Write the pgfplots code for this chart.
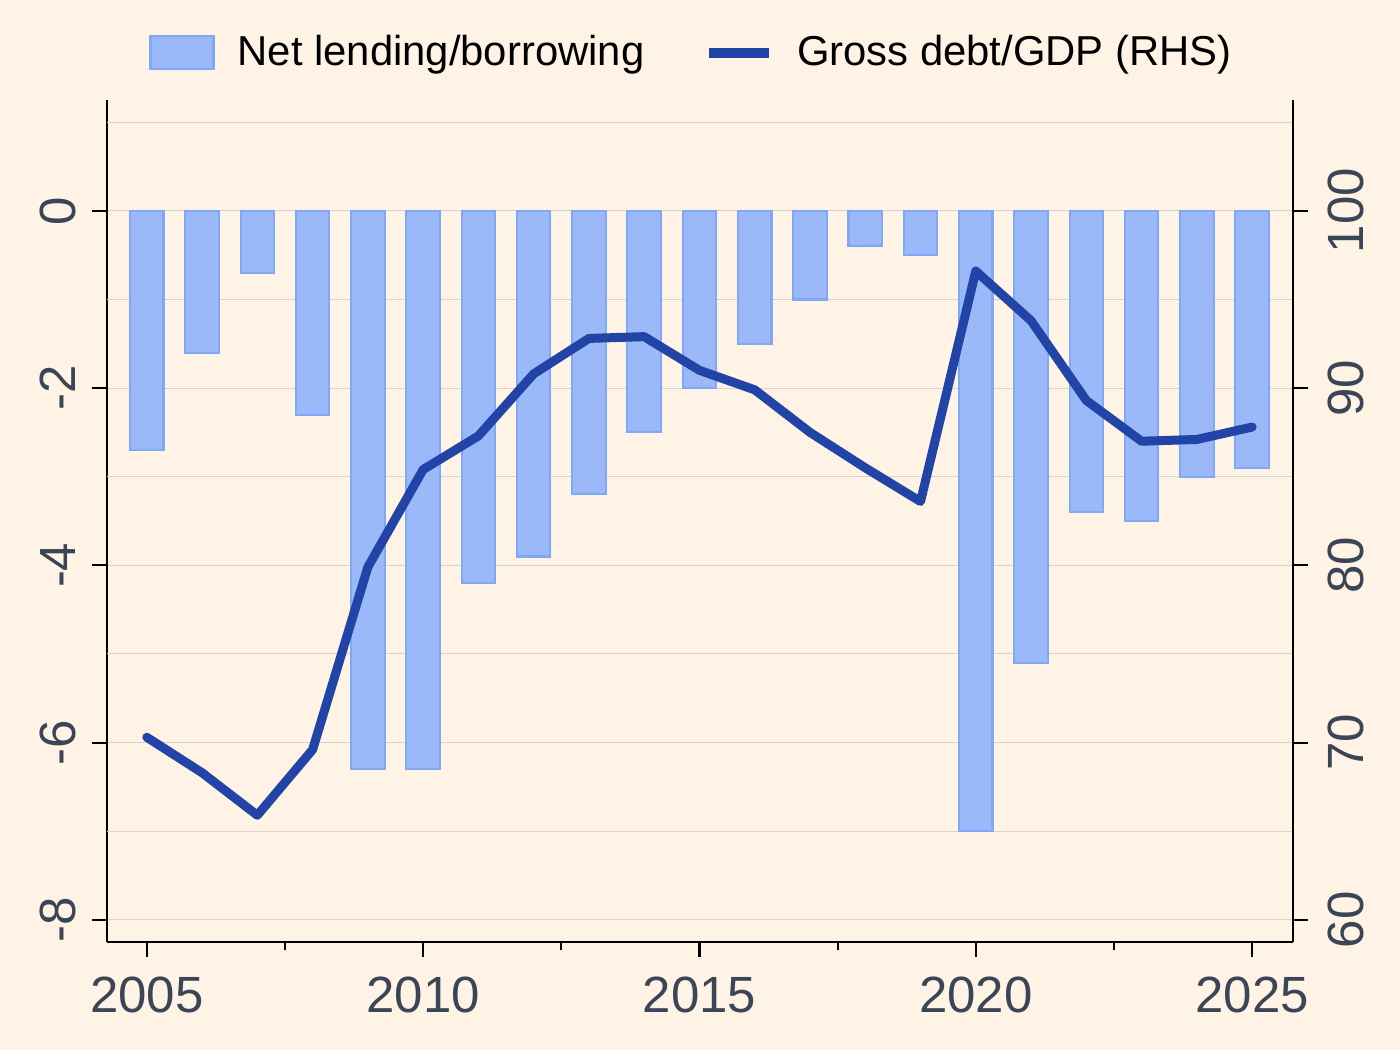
\documentclass[border=0pt]{standalone}
\usepackage{fontspec}
\setmainfont{Liberation Sans}
\usepackage{pgfplots}
\pgfplotsset{compat=1.18}
\definecolor{bg}{RGB}{255,243,230}
\definecolor{barfill}{RGB}{155,184,249}
\definecolor{baredge}{RGB}{128,168,248}
\definecolor{linec}{RGB}{34,68,166}
\definecolor{gridc}{RGB}{218,211,203}
\definecolor{ticktext}{RGB}{58,69,86}
\pgfplotstableread{
year nl
2005 -2.7
2006 -1.6
2007 -0.7
2008 -2.3
2009 -6.3
2010 -6.3
2011 -4.2
2012 -3.9
2013 -3.2
2014 -2.5
2015 -2.0
2016 -1.5
2017 -1.0
2018 -0.4
2019 -0.5
2020 -7.0
2021 -5.1
2022 -3.4
2023 -3.5
2024 -3.0
2025 -2.9
}\nltab
\pgfplotstableread{
year debt
2005 70.3
2006 68.3
2007 65.9
2008 69.6
2009 79.9
2010 85.4
2011 87.3
2012 90.8
2013 92.8
2014 92.9
2015 91.0
2016 89.9
2017 87.5
2018 85.5
2019 83.6
2020 96.6
2021 93.8
2022 89.3
2023 87.0
2024 87.1
2025 87.8
}\debttab
\pgfplotsset{
  common/.style={
    width=11.86cm, height=8.42cm, scale only axis,
    at={(0,0)}, anchor=south west,
    xmin=2004.28, xmax=2025.74,
    /pgf/number format/assume math mode=true,
    /pgf/number format/1000 sep={},
    axis line style={black, line width=0.6pt},
    tick style={black, line width=0.6pt},
    tick align=outside,
    major tick length=1.5mm,
    minor tick length=0.8mm,
    tick label style={font=\fontsize{14.5}{16}\selectfont, text=ticktext},
  }
}
\begin{document}
\begin{tikzpicture}
\fill[bg] (-1.07cm,-1.08cm) rectangle (12.93cm,9.42cm);
\path[use as bounding box] (-1.07cm,-1.08cm) rectangle (12.93cm,9.42cm);
\begin{axis}[
  common,
  ymin=-8.25, ymax=1.25,
  axis x line*=bottom, axis y line*=left,
  xtick={2005,2010,2015,2020,2025},
  minor xtick={2007.5,2012.5,2017.5,2022.5},
  xticklabel style={yshift=-0.7mm},
  ytick={-8,-6,-4,-2,0},
  yticklabel style={xshift=-0.4mm, rotate=90, anchor=south},
  ymajorgrids,
  extra y ticks={-7,-5,-3,-1,1},
  extra y tick labels={},
  extra y tick style={major tick length=0pt, ymajorgrids},
  major grid style={gridc, line width=0.3pt},
]
\addplot[ybar, bar width=3.35mm, fill=barfill, draw=baredge, line width=0.6pt] table[x=year, y=nl] {\nltab};
\end{axis}
\begin{axis}[
  common,
  ymin=58.75, ymax=106.25,
  hide x axis,
  axis y line*=right,
  ytick={60,70,80,90,100},
  yticklabel style={xshift=0.8mm, rotate=90, anchor=north},
  legend style={at={(0.495,1.056)}, anchor=center, draw=none, fill=none,
    legend columns=2, font=\fontsize{11.9}{14}\selectfont,
    /tikz/every even column/.append style={column sep=0.52cm},
    /tikz/every odd column/.append style={column sep=0.16cm}},
]
\addlegendimage{legend image code/.code={\draw[fill=barfill, draw=baredge, line width=0.6pt] (0cm,-0.165cm) rectangle (0.63cm,0.165cm);}}
\addlegendentry{Net lending/borrowing}
\addplot[linec, line width=0.9mm, line join=round, line cap=round,
  legend image code/.code={\draw[linec, line width=1.05mm, line cap=butt] (0cm,0cm) -- (0.6cm,0cm);}] table[x=year, y=debt] {\debttab};
\addlegendentry{Gross debt/GDP (RHS)}
\end{axis}
\end{tikzpicture}
\end{document}
